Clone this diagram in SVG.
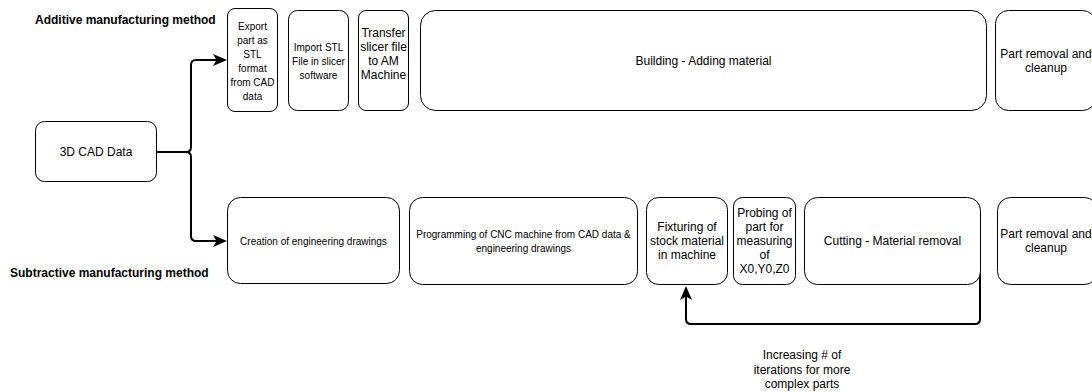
<svg xmlns="http://www.w3.org/2000/svg" width="1092" height="392" viewBox="0 0 1092 392">
<style>
  .box { fill: #ffffff; stroke: #000000; stroke-width: 1; }
  .t { font-family: "Liberation Sans", Arial, Helvetica, sans-serif; fill: #000000; text-anchor: middle; }
  .s10 { font-size: 10px; }
  .s12 { font-size: 12px; }
  .title { font-family: "Liberation Sans", Arial, Helvetica, sans-serif; font-size: 12px; font-weight: bold; fill: #000000; }
  .conn { fill: none; stroke: #000000; stroke-width: 2; stroke-linejoin: round; }
</style>
<defs>
  <marker id="arrow" viewBox="0 0 14 12" refX="9" refY="6" markerWidth="14" markerHeight="12" markerUnits="userSpaceOnUse" orient="auto">
    <path d="M0,0 L14,6 L0,12 L3.5,6 Z" fill="#000000"/>
  </marker>
</defs>
<rect width="1092" height="392" fill="#ffffff"/>

<text class="title" x="35" y="24">Additive manufacturing method</text>
<text class="title" x="10" y="276.5">Subtractive manufacturing method</text>

<g id="connectors">
  <path class="conn" d="M157,152 H186 Q191,152 191,147 V65 Q191,60 196,60 H222" marker-end="url(#arrow)"/>
  <path class="conn" d="M157,152 H186 Q191,152 191,157 V236 Q191,241 196,241 H222" marker-end="url(#arrow)"/>
  <path class="conn" d="M980,262 V319 Q980,324 975,324 H691 Q686,324 686,319 V291" marker-end="url(#arrow)"/>
</g>

<g id="cad">
  <rect class="box" x="35.5" y="121.5" width="121" height="60" rx="9"/>
  <text class="t s12" x="96" y="156.3">3D CAD Data</text>
</g>

<g id="export">
  <rect class="box" x="227.5" y="8.5" width="50" height="103" rx="7.5"/>
  <text class="t s10" x="252.5" y="29.6">Export</text>
  <text class="t s10" x="252.5" y="43.6">part as</text>
  <text class="t s10" x="252.5" y="57.6">STL</text>
  <text class="t s10" x="252.5" y="71.6">format</text>
  <text class="t s10" x="252.5" y="85.6">from CAD</text>
  <text class="t s10" x="252.5" y="99.6">data</text>
</g>

<g id="import">
  <rect class="box" x="288.5" y="10.5" width="60" height="100" rx="9"/>
  <text class="t s10" x="318.5" y="51.3">Import STL</text>
  <text class="t s10" x="318.5" y="65.3">File in slicer</text>
  <text class="t s10" x="318.5" y="79.3">software</text>
</g>

<g id="transfer">
  <rect class="box" x="358.5" y="10.5" width="50" height="100" rx="7.5"/>
  <text class="t s12" x="383.5" y="36.8">Transfer</text>
  <text class="t s12" x="383.5" y="50.8">slicer file</text>
  <text class="t s12" x="383.5" y="64.8">to AM</text>
  <text class="t s12" x="383.5" y="78.8">Machine</text>
</g>

<g id="building">
  <rect class="box" x="420.5" y="10.5" width="566" height="100" rx="15"/>
  <text class="t s12" x="703.5" y="64.8">Building - Adding material</text>
</g>

<g id="removal-top">
  <rect class="box" x="995.5" y="10.5" width="100" height="100" rx="13"/>
  <text class="t s12" x="1046" y="58.3">Part removal and</text>
  <text class="t s12" x="1046" y="72.3">cleanup</text>
</g>

<g id="creation">
  <rect class="box" x="227.5" y="197.5" width="172" height="86" rx="13"/>
  <text class="t s10" x="313.5" y="244.6">Creation of engineering drawings</text>
</g>

<g id="programming">
  <rect class="box" x="409.5" y="197.5" width="228" height="87" rx="13"/>
  <text class="t s10" x="523.5" y="237.6">Programming of CNC machine from CAD data &amp;</text>
  <text class="t s10" x="523.5" y="251.6">engineering drawings</text>
</g>

<g id="fixturing">
  <rect class="box" x="646.5" y="197.5" width="81" height="87" rx="12"/>
  <text class="t s12" x="687" y="231.3">Fixturing of</text>
  <text class="t s12" x="687" y="245.3">stock material</text>
  <text class="t s12" x="687" y="259.3">in machine</text>
</g>

<g id="probing">
  <rect class="box" x="733.5" y="197.5" width="62" height="87" rx="9"/>
  <text class="t s12" x="764.5" y="217.3">Probing of</text>
  <text class="t s12" x="764.5" y="231.3">part for</text>
  <text class="t s12" x="764.5" y="245.3">measuring</text>
  <text class="t s12" x="764.5" y="259.3">of</text>
  <text class="t s12" x="764.5" y="273.3">X0,Y0,Z0</text>
</g>

<g id="cutting">
  <rect class="box" x="804.5" y="197.5" width="176" height="87" rx="13"/>
  <text class="t s12" x="892.5" y="245.3">Cutting - Material removal</text>
</g>

<g id="removal-bottom">
  <rect class="box" x="997.5" y="197.5" width="100" height="87" rx="13"/>
  <text class="t s12" x="1046" y="238.3">Part removal and</text>
  <text class="t s12" x="1046" y="252.3">cleanup</text>
</g>

<g id="loop-label">
  <text class="t s12" x="802" y="359.3">Increasing # of</text>
  <text class="t s12" x="802" y="373.8">iterations for more</text>
  <text class="t s12" x="802" y="388.3">complex parts</text>
</g>
</svg>
